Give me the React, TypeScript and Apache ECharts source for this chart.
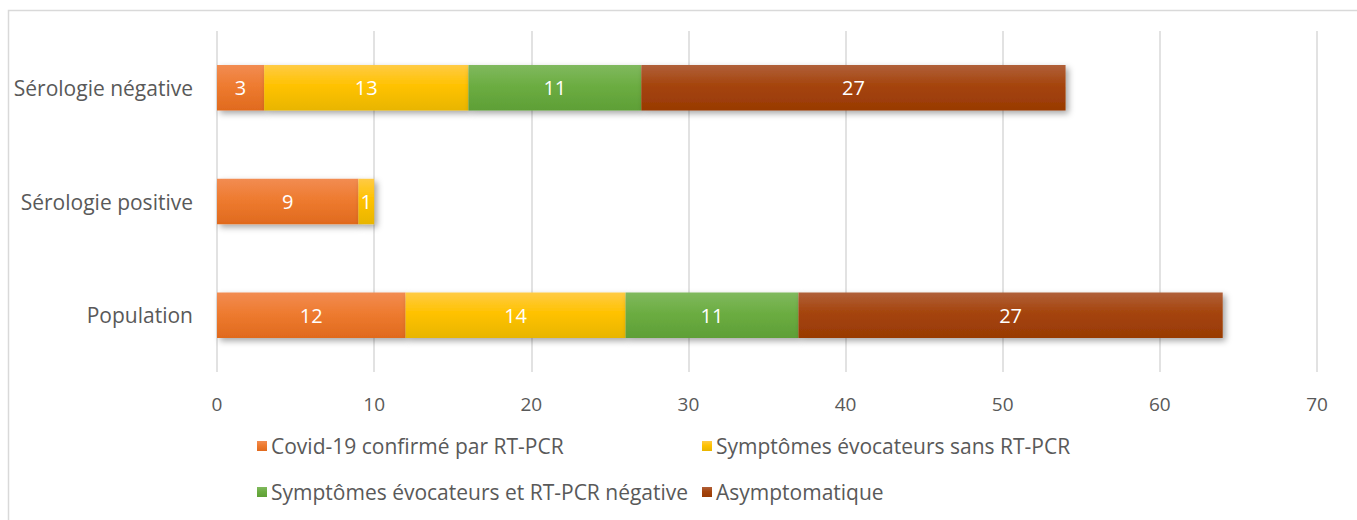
import React, { useEffect, useRef } from "react";
import * as echarts from "echarts";

const categories = ["Population", "Sérologie positive", "Sérologie négative"];
const seriesNames = [
  "Covid-19 confirmé par RT-PCR",
  "Symptômes évocateurs sans RT-PCR",
  "Symptômes évocateurs et RT-PCR négative",
  "Asymptomatique",
];
const covidConfirme = [12, 9, 3];
const symptomesSans = [14, 1, 13];
const symptomesNegative = [11, 0, 11];
const asymptomatique = [27, 0, 27];
const xTicks = [0, 10, 20, 30, 40, 50, 60, 70];

const FONT = "Open Sans";
const FS = 21;

const grad = (top: string, mid: string, bottom: string) =>
  new echarts.graphic.LinearGradient(0, 0, 0, 1, [
    { offset: 0, color: top },
    { offset: 0.45, color: mid },
    { offset: 1, color: bottom },
  ]);

export default function App() {
  const ref = useRef<HTMLDivElement>(null);
  useEffect(() => {
    if (!ref.current) return;
    const chart = echarts.init(ref.current, undefined, { renderer: "svg" });
    const colors = [
      { g: grad("#F28C52", "#EE7B30", "#E06A1E"), solid: "#ED7D31" },
      { g: grad("#FFCB45", "#FFC200", "#E8B500"), solid: "#FFC000" },
      { g: grad("#80B95E", "#6CAD42", "#5E9F36"), solid: "#70AD47" },
      { g: grad("#B0603A", "#A5440C", "#983A04"), solid: "#9E480E" },
    ];
    const datas = [covidConfirme, symptomesSans, symptomesNegative, asymptomatique];
    const series = seriesNames.map((name, i) => ({
      name,
      type: "bar" as const,
      stack: "total",
      barCategoryGap: "60%",
      data: datas[i].map((v) => (v === 0 ? null : v)),
      itemStyle: {
        color: colors[i].g,
        shadowBlur: 6,
        shadowOffsetX: 3,
        shadowOffsetY: 3,
        shadowColor: "rgba(0,0,0,0.35)",
      },
      label: {
        show: true,
        position: "inside" as const,
        color: "#FFFFFF",
        fontFamily: FONT,
        fontSize: 20,
      },
    }));
    const legendCommon = {
      orient: "vertical" as const,
      top: 428,
      itemWidth: 10,
      itemHeight: 10,
      itemGap: 20,
      icon: "rect",
      textStyle: { fontFamily: FONT, fontSize: FS, color: "#595959", lineHeight: 26, padding: [0, 0, 0, -1] },
    };
    chart.setOption({
      animation: false,
      color: colors.map((c) => c.solid),
      graphic: [
        {
          type: "rect",
          shape: { x: 8.5, y: 10.5, width: 1400, height: 600 },
          style: { fill: "none", stroke: "#D9D9D9", lineWidth: 1.5 },
          silent: true,
        },
      ],
      grid: { left: 217, right: 40, top: 31, bottom: 148, containLabel: false },
      xAxis: {
        type: "value",
        min: xTicks[0],
        max: xTicks[xTicks.length - 1],
        interval: 10,
        axisLine: { show: false },
        axisTick: { show: false },
        axisLabel: { fontFamily: FONT, fontSize: 19, color: "#595959", margin: 22 },
        splitLine: { lineStyle: { color: "#D9D9D9", width: 1.5 } },
      },
      yAxis: {
        type: "category",
        data: categories,
        axisLine: { show: false },
        axisTick: { show: false },
        axisLabel: { fontFamily: FONT, fontSize: FS, color: "#595959", margin: 24 },
      },
      legend: [
        { ...legendCommon, left: 252, data: [seriesNames[0], seriesNames[2]] },
        { ...legendCommon, left: 697, data: [seriesNames[1], seriesNames[3]] },
      ],
      series,
    });
    return () => chart.dispose();
  }, []);
  return (
    <div
      ref={ref}
      style={{ position: "absolute", left: 0, top: 0, width: 1357, height: 520, background: "#fff" }}
    />
  );
}
